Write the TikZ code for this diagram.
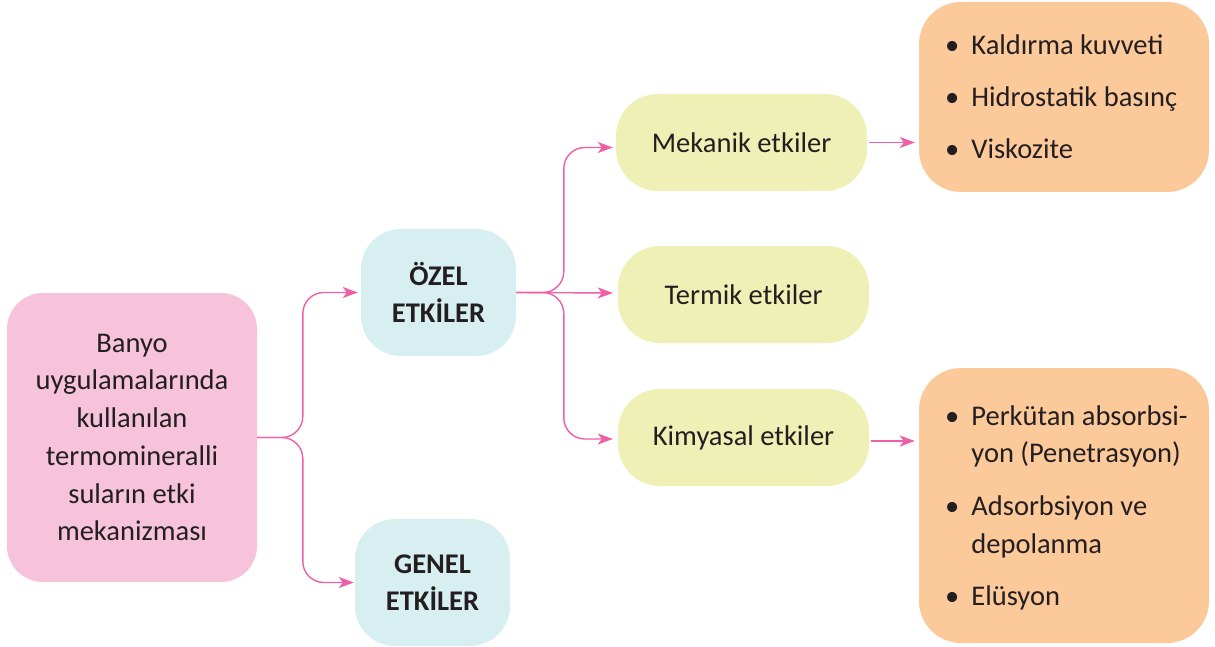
\documentclass[tikz,border=0pt]{standalone}
\usepackage{fontspec}
\setmainfont{Carlito}
\usetikzlibrary{arrows.meta,calc}
\definecolor{txt}{HTML}{231F20}
\definecolor{cpink}{HTML}{F7C3DA}
\definecolor{cblue}{HTML}{D8EFF2}
\definecolor{cyel}{HTML}{EEF0B6}
\definecolor{corange}{HTML}{FBC99A}
\definecolor{carrow}{HTML}{EE5FA7}
\begin{document}
\begin{tikzpicture}[x=1pt,y=-1pt,
  every node/.style={text=txt,font=\fontsize{28.5}{37.7}\selectfont,inner sep=0pt},
  box/.style={rounded corners=#1,minimum width=0pt,align=center},
  pinkbox/.style={box=36pt,fill=cpink,minimum width=250pt,minimum height=289pt},
  bluebox/.style={box=40pt,fill=cblue,minimum width=155pt,minimum height=127pt,font=\fontsize{28.5}{37}\selectfont\bfseries},
  yelbox/.style={box=42pt,fill=cyel,minimum width=251pt,minimum height=97pt},
  orangebox/.style={box=42pt,fill=corange,minimum width=290pt},
  conn/.style={draw=carrow,line width=1.4pt,rounded corners=21pt,
    -{Stealth[length=15pt,width=11pt,inset=4pt]}},
  listtext/.style={anchor=west,align=left}
]
\useasboundingbox (0,0) rectangle (1215,647);
% nodes
\node[pinkbox] (root) at (132,437.5) {Banyo\\uygulamalarında\\kullanılan\\termomineralli\\suların etki\\mekanizması};
\node[bluebox] (ozel) at (438.5,292.5) {ÖZEL\\ETKİLER};
\node[bluebox] (genel) at (432.5,582.5) {GENEL\\ETKİLER};
\node[yelbox] (mek) at (741.5,142.5) {Mekanik etkiler};
\node[yelbox] (term) at (743.5,294.5) {Termik etkiler};
\node[yelbox] (kim) at (743.5,437.5) {Kimyasal etkiler};
\node[orangebox,minimum height=190pt] (o1) at (1064,97) {};
\node[orangebox,minimum height=275pt] (o2) at (1064,505.5) {};
\node[listtext] (l1) at (945,99) {%
  \begin{tabular}{@{}l@{\hspace{12pt}}l@{}}
  \textbullet & Kaldırma kuvveti\\[14pt]
  \textbullet & Hidrostatik basınç\\[14pt]
  \textbullet & Viskozite
  \end{tabular}};
\node[listtext] (l2) at (945,508) {%
  \begin{tabular}{@{}l@{\hspace{12pt}}l@{}}
  \textbullet & Perkütan absorbsi-\\
   & yon (Penetrasyon)\\[15pt]
  \textbullet & Adsorbsiyon ve\\
   & depolanma\\[15pt]
  \textbullet & Elüsyon
  \end{tabular}};
% connectors
\draw[conn] (root.east) -| ([xshift=-58pt]ozel.west) -- ([xshift=-3pt]ozel.west);
\draw[conn] (root.east) -| ([xshift=-52pt]genel.west) -- ([xshift=-1pt]genel.west);
\draw[conn] (ozel.east) -| ([xshift=-52pt,yshift=-5pt]mek.west) -- ([xshift=-3pt,yshift=-5pt]mek.west);
\draw[conn] (ozel.east) -- ([xshift=-5pt,yshift=1.5pt]term.west);
\draw[conn] (ozel.east) -| ([xshift=-54pt,yshift=-1.5pt]kim.west) -- ([xshift=-5pt,yshift=-1.5pt]kim.west);
\draw[conn,shorten <=2pt,shorten >=4pt] (mek.east) -- (mek.east -| o1.west);
\draw[conn,shorten <=2pt,shorten >=4pt] ([yshift=-3.5pt]kim.east) -- ([yshift=-3.5pt]kim.east -| o2.west);
\end{tikzpicture}
\end{document}
